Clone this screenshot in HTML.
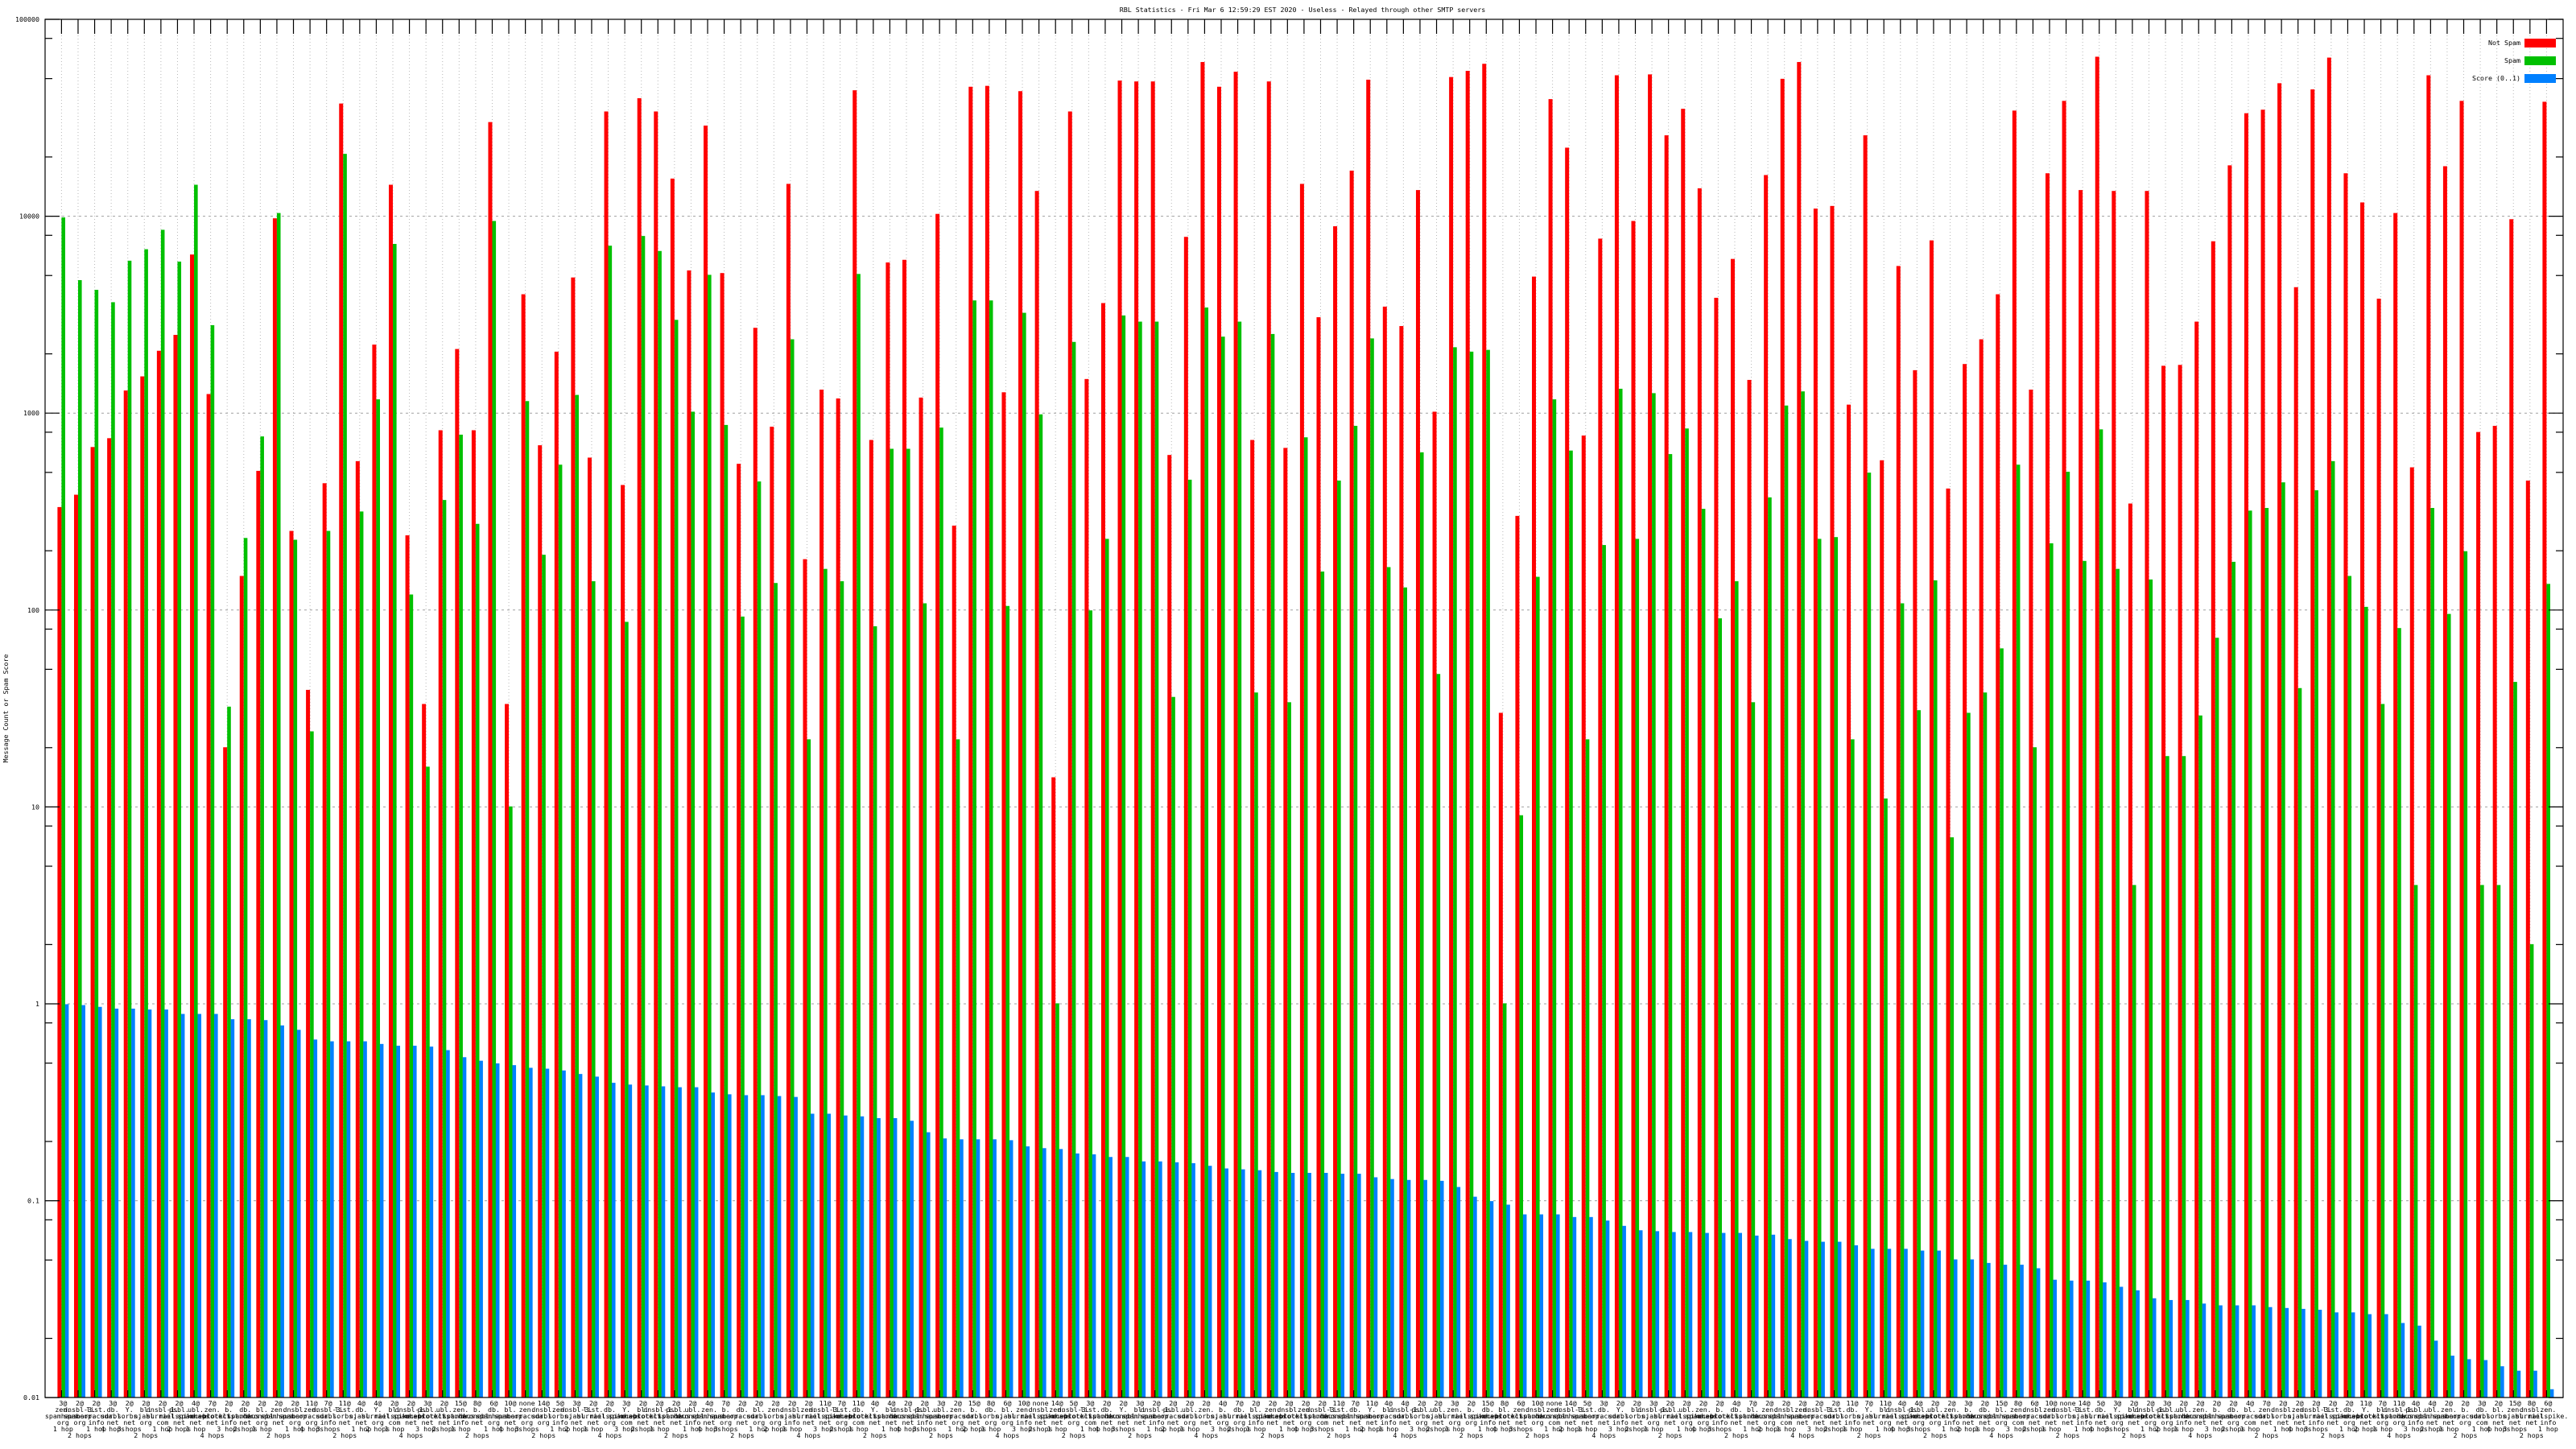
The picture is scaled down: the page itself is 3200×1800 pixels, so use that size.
<!DOCTYPE html>
<html><head><meta charset="utf-8"><style>
html,body{margin:0;padding:0;background:#fff;}
svg{display:block}
text{font-family:"DejaVu Sans Mono","Liberation Mono",monospace;font-size:8.3px;fill:#000}
</style></head><body>
<svg id="s" width="3200" height="1800" xmlns="http://www.w3.org/2000/svg">
<text x="1618" y="15" text-anchor="middle">RBL Statistics - Fri Mar  6 12:59:29 EST 2020 - Useless - Relayed through other SMTP servers</text>
<text transform="translate(10,880) rotate(-90)" text-anchor="middle">Message Count or Spam Score</text>
</svg>
<script>
var R=[556,542,488,478,424,408,379,361,270,428,828,634,515,229,583,763,529,99,504,372,191,588,779,469,377,
469,120,779,315,486,380,296,500,108,531,93,108,184,288,124,291,507,353,465,190,615,423,433,84,480,279,
276,432,224,577,80,79,426,85,198,862,108,411,325,73,74,74,497,250,52,80,63,480,74,489,190,341,
238,175,72,329,351,197,448,69,62,54,789,566,295,94,149,475,252,67,232,66,135,105,195,319,275,412,
180,71,52,218,215,440,135,503,283,401,254,535,394,366,315,107,423,178,96,197,46,198,552,198,396,395,
346,255,169,110,106,76,307,83,47,178,211,320,223,511,67,170,96,471,464,230,526,97];
var G=[228,299,310,324,277,264,242,278,191,350,782,591,476,223,593,810,583,156,561,434,258,655,850,548,474,
575,232,895,436,610,508,429,640,260,686,249,266,344,448,293,463,680,527,642,366,819,626,640,292,691,490,
490,665,466,819,322,322,668,336,451,1118,369,673,592,339,346,346,771,525,330,363,346,766,360,777,477,629,
526,464,365,624,647,494,745,375,380,378,1118,905,635,434,492,819,599,422,592,427,496,467,558,682,640,777,
545,441,425,592,590,819,517,886,665,786,639,930,789,766,716,508,828,597,516,617,468,626,984,638,838,838,
792,704,618,560,557,528,761,537,504,634,669,779,693,984,557,677,606,984,984,754,1051,643];
var B=[1119,1120,1122,1124,1124,1125,1125,1130,1130,1130,1136,1136,1137,1143,1148,1159,1161,1161,1161,1164,1166,1166,1167,1171,1179,
1183,1186,1188,1191,1192,1194,1198,1201,1208,1210,1211,1212,1213,1213,1219,1221,1222,1222,1223,1224,1243,1243,1245,1246,1248,1248,
1251,1264,1271,1272,1272,1272,1273,1280,1282,1283,1288,1289,1292,1292,1297,1297,1298,1299,1302,1305,1306,1307,1309,1310,1310,1310,
1311,1311,1315,1317,1318,1318,1319,1326,1337,1342,1346,1357,1357,1357,1360,1360,1364,1370,1375,1376,1377,1377,1378,1378,1378,1381,
1380,1385,1387,1388,1388,1392,1396,1396,1396,1398,1398,1408,1408,1412,1414,1414,1418,1431,1432,1432,1434,1439,1443,1452,1454,1454,
1458,1460,1460,1460,1462,1463,1464,1465,1468,1468,1470,1470,1480,1483,1500,1517,1521,1522,1529,1534,1534,1555];
var L=56,Rr=3184,T=24,Bt=1736,D=244.6;
function fy(z){return 20+z*1720/1568;}
var h=[];
for(var k=0;k<=7;k++){var y=T+k*D;
 if(k>0&&k<7)h.push('<line x1="'+L+'" x2="'+Rr+'" y1="'+y+'" y2="'+y+'" stroke="#a0a0a0" stroke-dasharray="3,4" stroke-width="1"/>');}
var N=151,sp=20.58,x0=76.4;
for(var i=0;i<N;i++){var t=x0+i*sp;
 h.push('<line x1="'+t+'" x2="'+t+'" y1="'+T+'" y2="'+Bt+'" stroke="#b8b8b8" stroke-dasharray="1,3" stroke-width="1"/>');}
for(var i=0;i<N;i++){var t=x0+i*sp;
 var r=fy(R[i]),g=fy(G[i]),b=fy(B[i]);
 h.push('<rect x="'+(t-5)+'" y="'+r+'" width="5" height="'+(Bt-r)+'" fill="#ff0000"/>');
 h.push('<rect x="'+t+'" y="'+g+'" width="4.6" height="'+(Bt-g)+'" fill="#00c000"/>');
 h.push('<rect x="'+(t+4.4)+'" y="'+b+'" width="4.6" height="'+(Bt-b)+'" fill="#0080ff"/>');
 h.push('<line x1="'+t+'" x2="'+t+'" y1="'+T+'" y2="'+(T+18)+'" stroke="#000" stroke-width="1.2"/>');
 h.push('<line x1="'+t+'" x2="'+t+'" y1="'+Bt+'" y2="'+(Bt-9)+'" stroke="#000" stroke-width="1.2"/>');
}
var labs=["100000","10000","1000","100","10","1","0.1","0.01"];
for(var k=0;k<=7;k++){var y=T+k*D;
 h.push('<line x1="'+L+'" x2="'+(L+18)+'" y1="'+y+'" y2="'+y+'" stroke="#000" stroke-width="1.2"/>');
 h.push('<line x1="'+(Rr-18)+'" x2="'+Rr+'" y1="'+y+'" y2="'+y+'" stroke="#000" stroke-width="1.2"/>');
 h.push('<text x="49" y="'+(y+3)+'" text-anchor="end">'+labs[k]+'</text>');
 if(k<7){[2,5,8].forEach(function(m){var yy=T+(k+1)*D-Math.log10(m)*D;
  h.push('<line x1="'+L+'" x2="'+(L+9)+'" y1="'+yy+'" y2="'+yy+'" stroke="#000" stroke-width="1.2"/>');
  h.push('<line x1="'+(Rr-9)+'" x2="'+Rr+'" y1="'+yy+'" y2="'+yy+'" stroke="#000" stroke-width="1.2"/>');});}
}
h.push('<rect x="'+L+'" y="'+T+'" width="'+(Rr-L)+'" height="'+(Bt-T)+'" fill="none" stroke="#000" stroke-width="1.2"/>');
var lg=[["Not Spam","#ff0000",53],["Spam","#00c000",75],["Score (0..1)","#0080ff",97]];
lg.forEach(function(l){h.push('<rect x="3136" y="'+(l[2]-5)+'" width="39" height="11" fill="'+l[1]+'"/>');
 h.push('<text x="3131" y="'+(l[2]+3)+'" text-anchor="end">'+l[0]+'</text>');});
var nums=["3@","2@","2@","3@","2@","2@","2@","2@","4@","7@","2@","2@","2@","2@","2@","11@","7@","11@","4@","4@","2@","2@","3@","2@","15@","8@","6@","10@","none","14@","5@"];
var l2=["zen.","zen.","db.","zen.","psbl.","bl.","db.","dnsbl-3.","dnsbl.","bl.","b.","ubl.","dnsbl-1.","Y.","list."];
var l3=["spamhaus.","spamhaus.","surbl.","spamhaus.","surriel.","spamcop.","uceprotect.","sorbs.","dronebl.","mailspike.","barracuda.","blocklist.de.","njabl."];
var l4=["org","org","info","org","com","net","info","net","org","net","net","net","net","net"];
var l5=["1 hop","2 hops","3 hops","4 hops","1 hop","2 hops"];
for(var i=0;i<N;i++){var t=x0+i*sp;
 var ls=[nums[i%nums.length],l2[(i*7)%l2.length],l3[(i*5)%l3.length],l4[(i*3)%l4.length],l5[(i*11)%l5.length]];
 if(i%4==1){ls.splice(4,0,"");}
 for(var j=0;j<ls.length;j++){ if(ls[j]) h.push('<text x="'+(t+2)+'" y="'+(1746+j*8)+'" text-anchor="middle">'+ls[j]+'</text>');}
}
document.getElementById('s').insertAdjacentHTML('beforeend',h.join(''));
</script>
</body></html>
